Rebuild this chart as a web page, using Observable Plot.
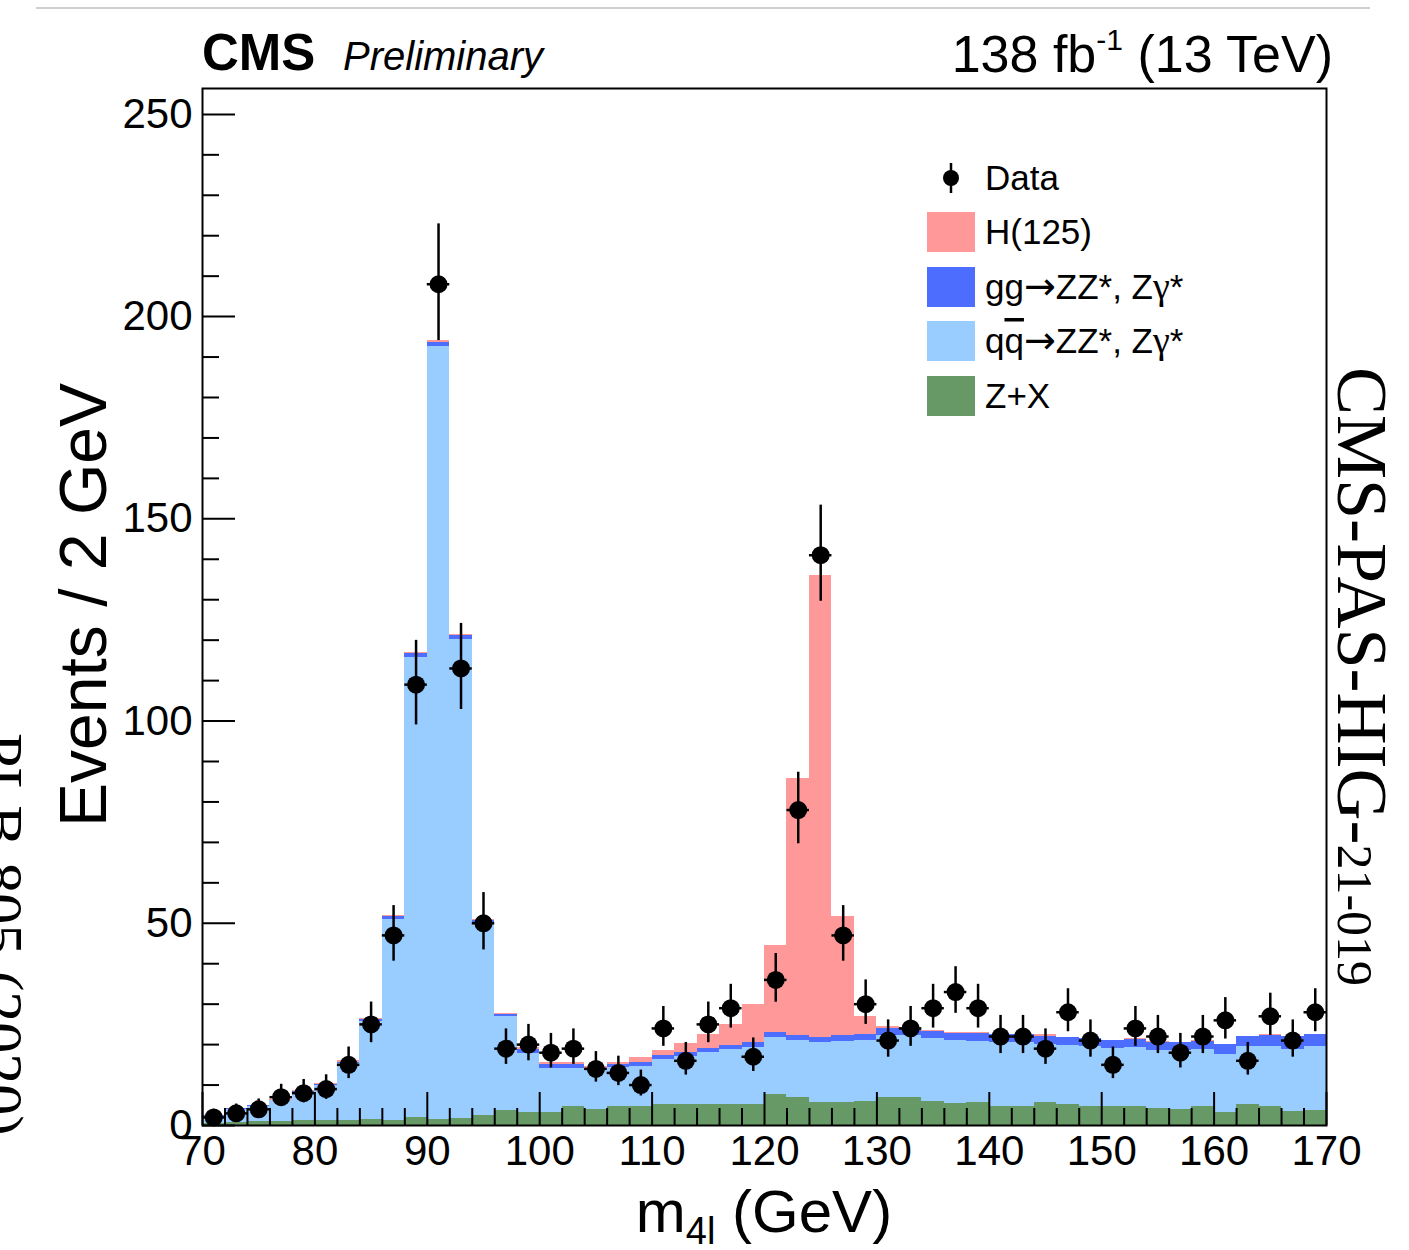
<!DOCTYPE html>
<html><head><meta charset="utf-8">
<script src="https://cdn.jsdelivr.net/npm/d3@7"></script>
<script src="https://cdn.jsdelivr.net/npm/@observablehq/plot@0.6"></script>
<style>body{margin:0;background:#fff;} svg{display:block;}</style>
</head><body><div id="chart"></div>
<script>
// Bin lower edges (2 GeV bins)
const binLow = [70,72,74,76,78,80,82,84,86,88, 90,92,94,96,98,100,102,104,106,108,
  110,112,114,116,118,120,122,124,126,128, 130,132,134,136,138,140,142,144,146,148,
  150,152,154,156,158,160,162,164,166,168];
// Stacked processes (bottom to top)
const zx = [0.5,0.7,1.0,1.1,1.3,1.3,1.3,1.4,1.3,1.9, 1.6,1.8,2.4,3.6,3.1,3.1,4.7,3.9,4.7,4.7,
  5.3,5.3,5.3,5.1,5.3,7.6,6.8,5.8,5.8,6.0, 6.8,6.8,6.0,5.5,5.8,4.7,4.7,5.8,5.3,4.7,
  4.7,4.8,4.1,3.9,4.7,3.3,5.3,4.7,3.5,3.6];
const qq = [1.8,3.3,3.7,5.0,6.9,8.6,14.1,24.4,49.7,113.9, 191.1,118.4,47.6,23.3,14.8,10.9,9.5,9.7,9.6,9.9,
  10.9,11.8,12.7,13.6,13.9,14.1,14.2,14.6,15.0,15.1, 15.4,15.5,15.5,15.5,15.0,15.7,15.7,14.3,14.4,14.8,
  14.4,14.4,14.4,14.6,14.1,14.3,14.3,14.9,15.2,16.0];
const gg = [0.1,0.1,0.15,0.15,0.2,0.2,0.3,0.4,0.6,0.8, 0.9,0.9,0.6,0.5,1.0,1.0,0.8,0.6,0.7,1.0,
  1.0,1.0,1.1,1.1,1.2,1.3,1.3,1.4,1.5,1.5, 1.7,1.7,1.8,1.8,1.9,2.0,2.0,2.0,2.0,2.0,
  1.9,2.0,2.1,1.9,2.0,2.4,2.4,2.7,3.3,2.9];
const h125 = [0.1,0.1,0.15,0.15,0.2,0.25,0.3,0.3,0.4,0.4, 0.4,0.4,0.4,0.4,0.4,0.6,0.6,0.4,0.7,1.1,
  1.3,2.1,3.4,5.2,9.6,21.5,63.5,114.2,29.3,4.4, 0.6,0.3,0.3,0.2,0.2,0.15,0.15,0.3,0.15,0.1,
  0.1,0.2,0.1,0.1,0.1,0.1,0.1,0.3,0.1,0.1];
// Observed events
const dataCounts = [2,3,4,7,8,9,15,25,47,109, 208,113,50,19,20,18,19,14,13,10,
  24,16,25,29,17,36,78,141,47,30, 21,24,29,33,29,22,22,19,28,21,
  15,24,22,18,22,26,16,27,21,28];

const processes = ["Z+X","qq","gg","H(125)"];
const colors = ["#669966","#99ccff","#4d6dff","#ff9999"];
const yTicks = [0,50,100,150,200,250];
const yMinor = [10,20,30,40,60,70,80,90,110,120,130,140,160,170,180,190,210,220,230,240];
const xTicks = [70,80,90,100,110,120,130,140,150,160,170];
const xMinor = [72,74,76,78,82,84,86,88,92,94,96,98,102,104,106,108,112,114,116,118,122,124,126,128,
  132,134,136,138,142,144,146,148,152,154,156,158,162,164,166,168];

const W = 1409, H = 1250, mL = 202, mR = 83, mT = 88, mB = 125;
const pw = W - mL - mR, ph = H - mT - mB;

const rows = [];
binLow.forEach((lo, i) => {
  let base = 0;
  [zx, qq, gg, h125].forEach((arr, k) => {
    rows.push({lo, hi: lo + 2, proc: processes[k], y1: base, y2: base + arr[i]});
    base += arr[i];
  });
});
const pts = binLow.map((lo, i) => {
  const n = dataCounts[i], s = Math.sqrt(n + 0.25);
  return {lo, hi: lo + 2, c: lo + 1, n, elo: n - s + 0.5, ehi: n + s + 0.5};
});

const svg = Plot.plot({
  width: W, height: H,
  marginLeft: mL, marginRight: mR, marginTop: mT, marginBottom: mB,
  style: {fontFamily: "'Liberation Sans', Arial, sans-serif", background: "#fff", color: "#000"},
  x: {domain: [70, 170], label: null},
  y: {domain: [0, 256.4], label: null},
  color: {domain: processes, range: colors},
  marks: [
    Plot.rect(rows, {x1: "lo", x2: "hi", y1: "y1", y2: "y2", fill: "proc", shapeRendering: "crispEdges"}),
    Plot.tickY(yTicks, {y: d => d, insetRight: pw - 33, stroke: "#000", strokeWidth: 2}),
    Plot.tickY(yMinor, {y: d => d, insetRight: pw - 17, stroke: "#000", strokeWidth: 2}),
    Plot.tickX(xTicks, {x: d => d, insetTop: ph - 33, stroke: "#000", strokeWidth: 2}),
    Plot.tickX(xMinor, {x: d => d, insetTop: ph - 17, stroke: "#000", strokeWidth: 2}),
    Plot.ruleX(pts, {x: "c", y1: "elo", y2: "ehi", stroke: "#000", strokeWidth: 2.5}),
    Plot.ruleY(pts, {y: "n", x1: "lo", x2: "hi", stroke: "#000", strokeWidth: 2.5}),
    Plot.dot(pts, {x: "c", y: "n", r: 9, fill: "#000"}),
    Plot.frame({stroke: "#000", strokeWidth: 2}),
    Plot.axisY(yTicks, {tickSize: 0, tickPadding: 10, fontSize: 42, label: null}),
    Plot.axisX(xTicks, {tickSize: 0, tickPadding: 10, fontSize: 42, label: null})
  ]
});
document.getElementById("chart").appendChild(svg);

const g = d3.select(svg).append("g").attr("fill", "#000").attr("text-anchor", "start");
const sans = "'Liberation Sans', Arial, sans-serif";
const serif = "'Liberation Serif', 'Times New Roman', serif";

// top grey line
g.append("line").attr("x1", 36).attr("x2", 1370).attr("y1", 8).attr("y2", 8)
  .attr("stroke", "#d0d0d0").attr("stroke-width", 2);

// CMS Preliminary
g.append("text").attr("x", 202).attr("y", 70).attr("text-anchor", "start").attr("font-family", sans)
  .attr("font-weight", "bold").attr("font-size", 51).text("CMS");
g.append("text").attr("x", 343).attr("y", 70).attr("text-anchor", "start").attr("font-family", sans)
  .attr("font-style", "italic").attr("font-size", 40).text("Preliminary");

// lumi
const lumi = g.append("text").attr("x", 1333).attr("y", 72).attr("text-anchor", "end")
  .attr("font-family", sans).attr("font-size", 52);
lumi.append("tspan").text("138 fb");
lumi.append("tspan").attr("dy", -22).attr("font-size", 30).text("-1");
lumi.append("tspan").attr("dy", 22).text(" (13 TeV)");

// axis titles
g.append("text").attr("transform", "translate(106,605) rotate(-90)").attr("text-anchor", "middle")
  .attr("font-family", sans).attr("font-size", 66).text("Events / 2 GeV");
const xt = g.append("text").attr("x", 764).attr("y", 1232).attr("text-anchor", "middle")
  .attr("font-family", sans).attr("font-size", 60);
xt.append("tspan").text("m");
xt.append("tspan").attr("dy", 12).attr("font-size", 38).text("4l");
xt.append("tspan").attr("dy", -12).text(" (GeV)");

// side labels
const side = g.append("text").attr("transform", "translate(1338,367) rotate(90)")
  .attr("text-anchor", "start").attr("font-family", serif).attr("font-size", 72);
side.append("tspan").text("CMS-PAS-HIG-");
side.append("tspan").attr("font-size", 50).text("21-019");
g.append("text").attr("transform", "translate(-19,733) rotate(90)").attr("text-anchor", "start")
  .attr("font-family", serif).attr("font-size", 62).text("PLB 805 (2020)");

// legend
const legX = 927, legText = 985;
const legRows = [
  {label: "Data", y: 178, type: "data"},
  {label: "H(125)", y: 232, color: colors[3]},
  {label: "gg", y: 287, color: colors[2], proc: true},
  {label: "qq", y: 341, color: colors[1], proc: true, qbar: true},
  {label: "Z+X", y: 396, color: colors[0]}
];
legRows.forEach(r => {
  if (r.type === "data") {
    g.append("line").attr("x1", 951).attr("x2", 951).attr("y1", r.y - 15).attr("y2", r.y + 15)
      .attr("stroke", "#000").attr("stroke-width", 2.5);
    g.append("circle").attr("cx", 951).attr("cy", r.y).attr("r", 8).attr("fill", "#000");
  } else {
    g.append("rect").attr("x", legX).attr("y", r.y - 20).attr("width", 48).attr("height", 40)
      .attr("fill", r.color);
  }
  const t = g.append("text").attr("x", legText).attr("y", r.y + 12).attr("text-anchor", "start")
    .attr("font-family", sans).attr("font-size", 35);
  if (r.proc) {
    if (r.qbar) {
      t.append("tspan").text("q");
      t.append("tspan").style("text-decoration", "overline").text("q");
    } else {
      t.append("tspan").text("gg");
    }
    t.append("tspan").attr("font-family", "'DejaVu Sans', sans-serif").attr("font-size", 38).text("→");
    t.append("tspan").text("ZZ*, Z");
    t.append("tspan").attr("font-family", serif).attr("font-size", 38).text("γ");
    t.append("tspan").text("*");
  } else {
    t.text(r.label);
  }
});
</script>
</body></html>
